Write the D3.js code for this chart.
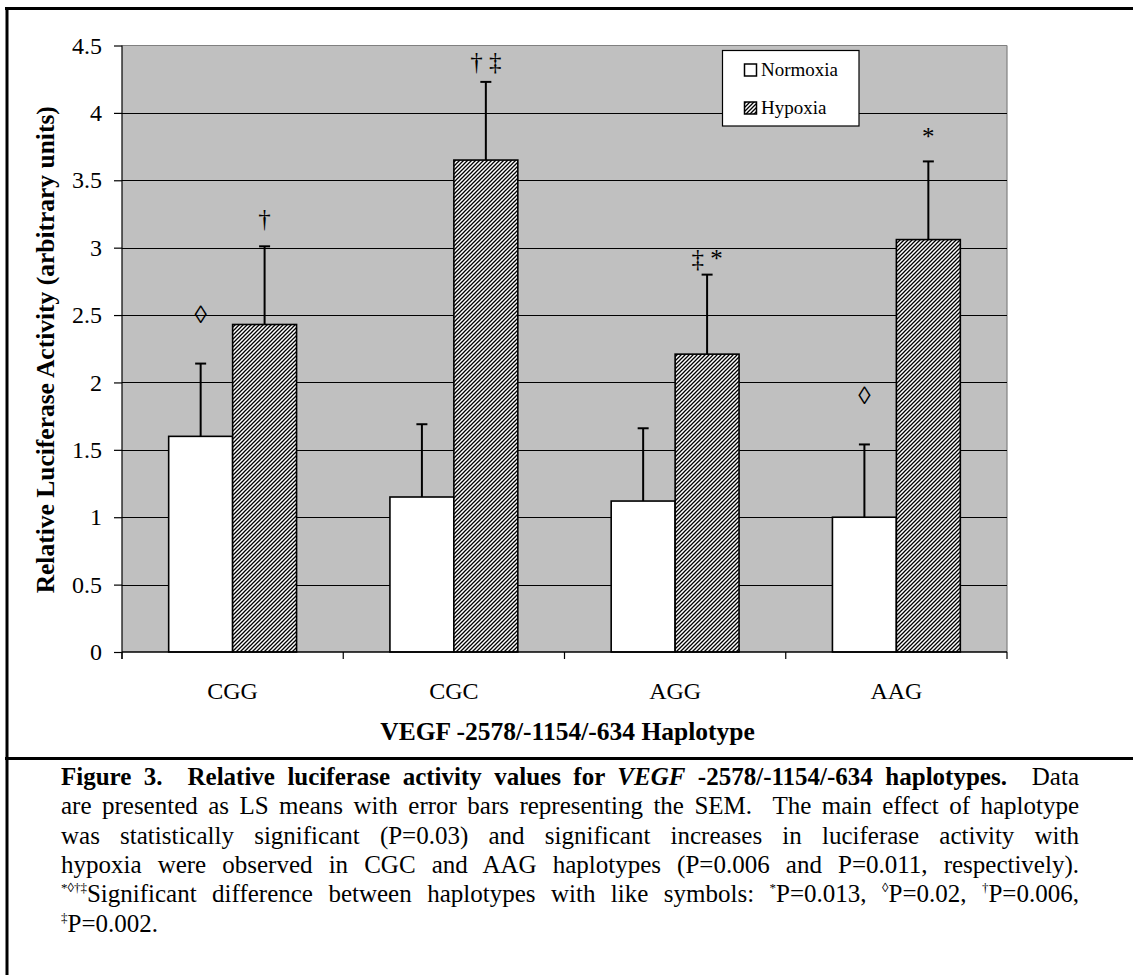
<!DOCTYPE html>
<html>
<head>
<meta charset="utf-8">
<script src="https://cdn.jsdelivr.net/npm/d3@7/dist/d3.min.js"></script>
<style>
  html, body { margin: 0; padding: 0; background: #fff; }
  body { width: 1133px; height: 975px; position: relative; overflow: hidden; font-family: "Liberation Serif", "Times New Roman", serif; }
  svg { position: absolute; left: 0; top: 0; }
  .cap { position: absolute; left: 61px; width: 1018px; font-size: 25px; line-height: 29.3px; color: #000; white-space: nowrap; text-align: justify; text-align-last: justify; }
  .cap.last { text-align: left; text-align-last: left; }
  .cap .sp { display: inline-block; font-size: 13px; line-height: 13px; vertical-align: top; position: relative; top: 2px; }
</style>
</head>
<body>
<svg id="chart" width="1133" height="975"></svg>
<div id="caption"></div>
<script>
// ---- data ----
const categories = ["CGG", "CGC", "AGG", "AAG"];
const seriesNames = ["Normoxia", "Hypoxia"];
const normoxia = [1.60, 1.15, 1.12, 1.00];
const hypoxia = [2.43, 3.65, 2.21, 3.06];
const normoxiaSEM = [0.54, 0.54, 0.54, 0.54];
const hypoxiaSEM = [0.58, 0.58, 0.59, 0.58];
const normoxiaMarks = ["\u25CA", "", "", "\u25CA"];
const hypoxiaMarks = ["\u2020", "\u2020 \u2021", "\u2021 *", "*"];
const normoxiaMarkY = [2.44, 0, 0, 1.84];
const hypoxiaMarkY = [3.15, 4.32, 2.86, 3.76];
const yTickValues = [0, 0.5, 1, 1.5, 2, 2.5, 3, 3.5, 4, 4.5];
const yTickLabels = ["0", "0.5", "1", "1.5", "2", "2.5", "3", "3.5", "4", "4.5"];
const yTitle = "Relative Luciferase Activity (arbitrary units)";
const xTitle = "VEGF -2578/-1154/-634 Haplotype";

const svg = d3.select("#chart");
const L = 122, R = 1007, T = 45.5, B = 652;

// pattern
const defs = svg.append("defs");
const pat = defs.append("pattern").attr("id", "hatch").attr("patternUnits", "userSpaceOnUse")
  .attr("width", 4).attr("height", 4);
pat.append("rect").attr("width", 4).attr("height", 4).attr("fill", "#fff");
pat.append("path").attr("d", "M-1,1 l2,-2 M0,4 l4,-4 M3,5 l2,-2")
  .attr("stroke", "#000").attr("stroke-width", 1.3);

// outer frame
svg.append("line").attr("x1", 5).attr("x2", 1133).attr("y1", 8.5).attr("y2", 8.5).attr("stroke", "#000").attr("stroke-width", 3);
svg.append("line").attr("x1", 7).attr("x2", 7).attr("y1", 7).attr("y2", 975).attr("stroke", "#000").attr("stroke-width", 3);
svg.append("line").attr("x1", 5).attr("x2", 1133).attr("y1", 758.5).attr("y2", 758.5).attr("stroke", "#000").attr("stroke-width", 3);

const x = d3.scaleBand().domain(categories).range([L, R]).padding(0);
const x1 = d3.scaleBand().domain(seriesNames).range([0, x.bandwidth()]).paddingInner(0).paddingOuter(0.73);
const y = d3.scaleLinear().domain([0, 4.5]).range([B, T]);

// plot background
svg.append("rect").attr("x", L).attr("y", T).attr("width", R - L).attr("height", B - T).attr("fill", "#C0C0C0");
svg.append("line").attr("x1", L).attr("x2", R).attr("y1", T).attr("y2", T).attr("stroke", "#808080").attr("stroke-width", 1.2);
svg.append("line").attr("x1", R).attr("x2", R).attr("y1", T).attr("y2", B).attr("stroke", "#808080").attr("stroke-width", 1.2);

// gridlines
svg.append("g").selectAll("line").data(yTickValues.filter(v => v > 0 && v < 4.5)).join("line")
  .attr("x1", L).attr("x2", R).attr("y1", d => Math.round(y(d)) + 0.5).attr("y2", d => Math.round(y(d)) + 0.5)
  .attr("stroke", "#000").attr("stroke-width", 1);

// bars
const rows = categories.map((c, i) => [
  { cat: c, s: "Normoxia", v: normoxia[i], e: normoxiaSEM[i], m: normoxiaMarks[i], my: normoxiaMarkY[i] },
  { cat: c, s: "Hypoxia", v: hypoxia[i], e: hypoxiaSEM[i], m: hypoxiaMarks[i], my: hypoxiaMarkY[i] }
]).flat();

const g = svg.append("g");
g.selectAll("rect.bar").data(rows).join("rect").attr("class", "bar")
  .attr("x", d => x(d.cat) + x1(d.s))
  .attr("y", d => y(d.v))
  .attr("width", x1.bandwidth())
  .attr("height", d => B - y(d.v))
  .attr("fill", d => d.s === "Normoxia" ? "#fff" : "url(#hatch)")
  .attr("stroke", "#000").attr("stroke-width", 1.6);

// error bars (upper)
const cx = d => x(d.cat) + x1(d.s) + x1.bandwidth() / 2;
g.selectAll("line.err").data(rows).join("line").attr("class", "err")
  .attr("x1", cx).attr("x2", cx).attr("y1", d => y(d.v)).attr("y2", d => y(d.v + d.e))
  .attr("stroke", "#000").attr("stroke-width", 2);
g.selectAll("line.cap").data(rows).join("line").attr("class", "cap")
  .attr("x1", d => cx(d) - 5.5).attr("x2", d => cx(d) + 5.5).attr("y1", d => y(d.v + d.e)).attr("y2", d => y(d.v + d.e))
  .attr("stroke", "#000").attr("stroke-width", 2);

// significance marks
g.selectAll("text.mark").data(rows.filter(d => d.m)).join("text").attr("class", "mark")
  .attr("x", cx).attr("y", d => y(d.my))
  .attr("text-anchor", "middle").attr("font-size", 25).attr("font-family", "Liberation Serif")
  .text(d => d.m);

// y axis
const yAxis = d3.axisLeft(y).tickValues(yTickValues).tickFormat((d, i) => yTickLabels[i]).tickSize(8).tickPadding(12);
const ya = svg.append("g").attr("transform", `translate(${L},0)`).call(yAxis);
ya.select(".domain").attr("stroke", "#000").attr("stroke-width", 1.2).attr("d", `M0,${T}V${B + 7}`);
ya.selectAll(".tick line").attr("stroke", "#000").attr("stroke-width", 1.2);
ya.selectAll(".tick text").attr("font-size", 24).attr("font-family", "Liberation Serif").attr("fill", "#000");

// x axis
const xa = svg.append("g").attr("transform", `translate(0,${B})`);
xa.append("line").attr("x1", L).attr("x2", R).attr("y1", 0).attr("y2", 0).attr("stroke", "#000").attr("stroke-width", 1.4);
const bounds = categories.map(c => x(c)).concat([R]);
xa.selectAll("line.xt").data(bounds).join("line").attr("class", "xt")
  .attr("x1", d => d).attr("x2", d => d).attr("y1", 0).attr("y2", 7).attr("stroke", "#000").attr("stroke-width", 1.2);
xa.selectAll("text.xl").data(categories).join("text").attr("class", "xl")
  .attr("x", d => x(d) + x.bandwidth() / 2).attr("y", 47)
  .attr("text-anchor", "middle").attr("font-size", 24).attr("font-family", "Liberation Serif").text(d => d);

// titles
svg.append("text").attr("x", (L + R) / 2 + 3).attr("y", 740).attr("text-anchor", "middle")
  .attr("font-size", 25.5).attr("font-weight", "bold").attr("font-family", "Liberation Serif").text(xTitle);
svg.append("text").attr("transform", `translate(54,${(T + B) / 2 + 1}) rotate(-90)`).attr("text-anchor", "middle")
  .attr("font-size", 25.5).attr("font-weight", "bold").attr("font-family", "Liberation Serif").text(yTitle);

// legend
const lg = svg.append("g");
lg.append("rect").attr("x", 722.5).attr("y", 50.5).attr("width", 136.5).attr("height", 75.5)
  .attr("fill", "#fff").attr("stroke", "#000").attr("stroke-width", 1.2);
seriesNames.forEach((s, i) => {
  const yy = 64 + i * 38;
  lg.append("rect").attr("x", 744.5).attr("y", yy).attr("width", 12).attr("height", 12)
    .attr("fill", i === 0 ? "#fff" : "url(#hatch)").attr("stroke", "#000").attr("stroke-width", 1.5);
  lg.append("text").attr("x", 761).attr("y", yy + 12).attr("font-size", 19).attr("font-family", "Liberation Serif").text(s);
});

// caption
const captionLines = [
  '<b>Figure 3.&nbsp; Relative luciferase activity values for <i>VEGF</i> -2578/-1154/-634 haplotypes.</b>&nbsp; Data',
  'are presented as LS means with error bars representing the SEM.&nbsp; The main effect of haplotype',
  'was statistically significant (P=0.03) and significant increases in luciferase activity with',
  'hypoxia were observed in CGC and AAG haplotypes (P=0.006 and P=0.011, respectively).',
  '<span class="sp">*\u25CA\u2020\u2021</span>Significant difference between haplotypes with like symbols: <span class="sp">*</span>P=0.013, <span class="sp">\u25CA</span>P=0.02, <span class="sp">\u2020</span>P=0.006,',
  '<span class="sp">\u2021</span>P=0.002.'
];
const cap = d3.select("#caption");
captionLines.forEach((h, i) => {
  cap.append("div").attr("class", "cap" + (i === captionLines.length - 1 ? " last" : ""))
    .style("top", (762 + i * 29.3) + "px").html(h);
});
</script>
</body>
</html>
